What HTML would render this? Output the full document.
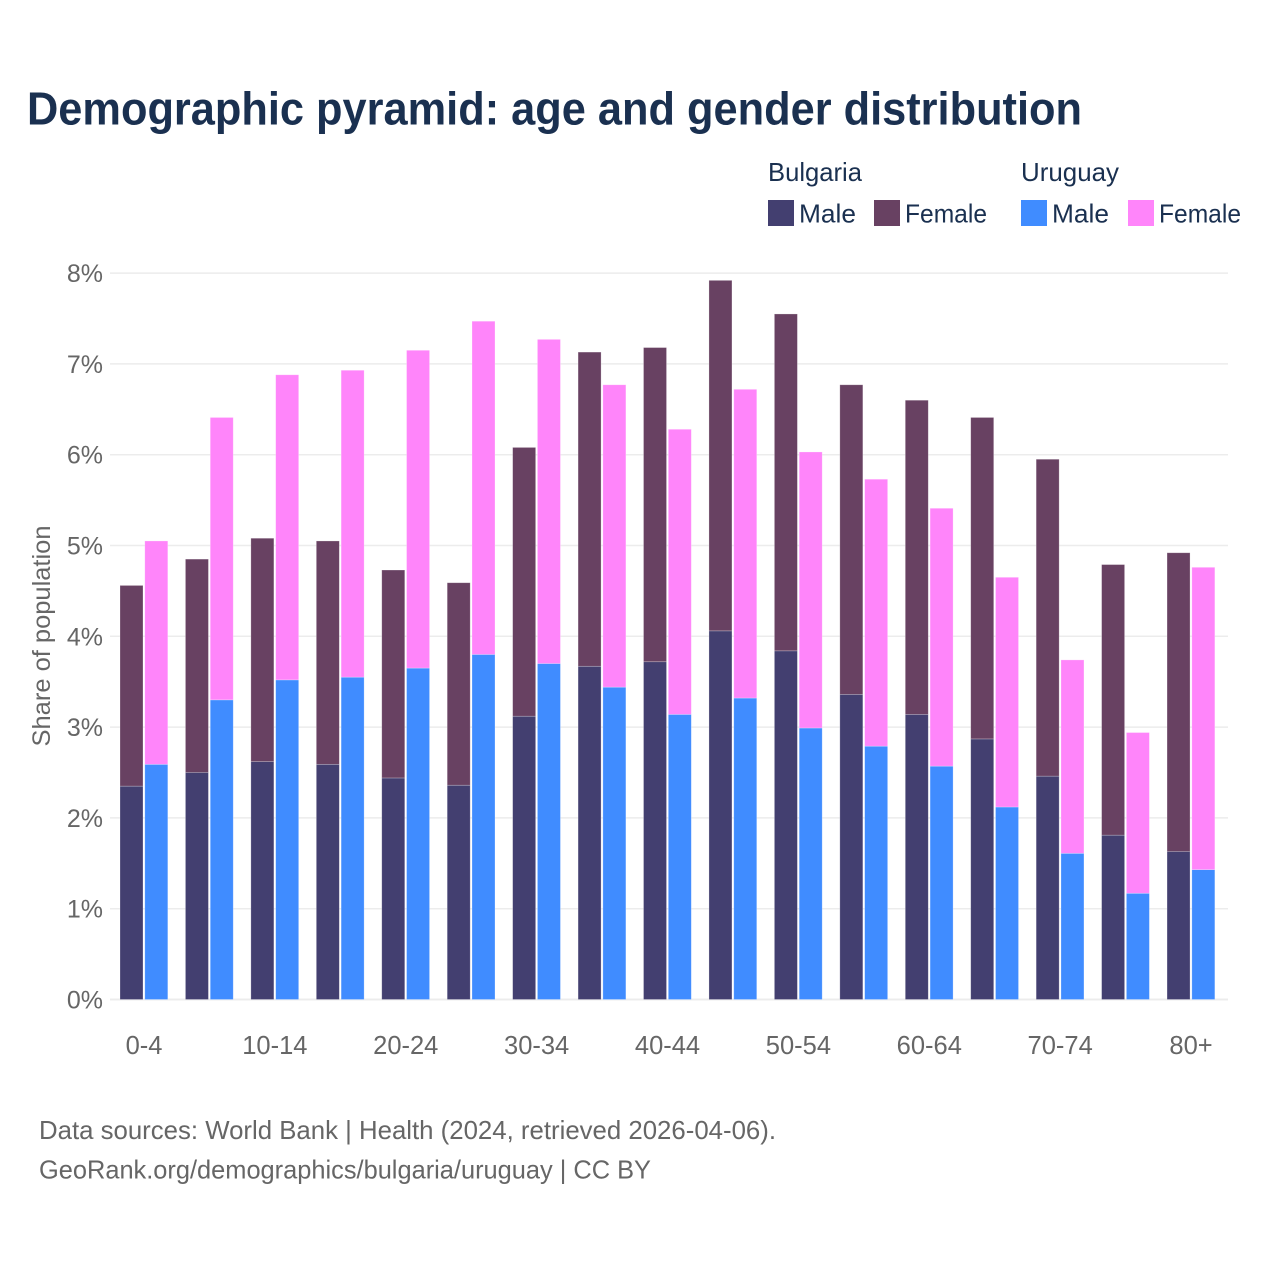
<!DOCTYPE html>
<html lang="en">
<head>
<meta charset="utf-8">
<title>Demographic pyramid</title>
<style>
html,body{margin:0;padding:0;background:#fff}
svg{display:block}
text{font-family:"Liberation Sans",sans-serif}
</style>
</head>
<body>
<svg id="chart" width="1280" height="1280" viewBox="0 0 1280 1280" xmlns="http://www.w3.org/2000/svg">
<rect width="1280" height="1280" fill="#fff"/>
<text x="27" y="124.5" font-size="46" font-weight="bold" fill="#1a3050" textLength="1055" lengthAdjust="spacingAndGlyphs">Demographic pyramid: age and gender distribution</text>
<g font-size="26" fill="#1a3050">
<text x="768" y="181" textLength="94" lengthAdjust="spacingAndGlyphs">Bulgaria</text>
<text x="1021" y="181" textLength="98" lengthAdjust="spacingAndGlyphs">Uruguay</text>
<rect x="768" y="200" width="26" height="26" fill="#433f70"/>
<text x="799" y="222.5" textLength="57" lengthAdjust="spacingAndGlyphs">Male</text>
<rect x="874" y="200" width="26" height="26" fill="#684162"/>
<text x="905" y="222.5" textLength="82" lengthAdjust="spacingAndGlyphs">Female</text>
<rect x="1021" y="200" width="26" height="26" fill="#408cff"/>
<text x="1052" y="222.5" textLength="57" lengthAdjust="spacingAndGlyphs">Male</text>
<rect x="1128" y="200" width="26" height="26" fill="#ff85fa"/>
<text x="1159" y="222.5" textLength="82" lengthAdjust="spacingAndGlyphs">Female</text>
</g>
<g id="grid"></g>
<g id="bars"></g>
<g id="yticks"></g>
<g id="xticks"></g>
<text transform="translate(50,636) rotate(-90)" text-anchor="middle" font-size="25" fill="#666" textLength="221" lengthAdjust="spacingAndGlyphs">Share of population</text>
<text x="39" y="1139" font-size="26" fill="#666" textLength="737" lengthAdjust="spacingAndGlyphs">Data sources: World Bank | Health (2024, retrieved 2026-04-06).</text>
<text x="39" y="1178.5" font-size="26" fill="#666" textLength="612" lengthAdjust="spacingAndGlyphs">GeoRank.org/demographics/bulgaria/uruguay | CC BY</text>
</svg>
<script>
const categories = ["0-4","5-9","10-14","15-19","20-24","25-29","30-34","35-39","40-44","45-49","50-54","55-59","60-64","65-69","70-74","75-79","80+"];
const bulgariaMale = [2.35,2.50,2.62,2.59,2.44,2.36,3.12,3.67,3.72,4.06,3.84,3.36,3.14,2.87,2.46,1.81,1.63];
const bulgariaFemale = [2.21,2.35,2.46,2.46,2.29,2.23,2.96,3.46,3.46,3.86,3.71,3.41,3.46,3.54,3.49,2.98,3.29];
const uruguayMale = [2.59,3.30,3.52,3.55,3.65,3.80,3.70,3.44,3.14,3.32,2.99,2.79,2.57,2.12,1.61,1.17,1.43];
const uruguayFemale = [2.46,3.11,3.36,3.38,3.50,3.67,3.57,3.33,3.14,3.40,3.04,2.94,2.84,2.53,2.13,1.77,3.33];
const yTicks = [0,1,2,3,4,5,6,7,8];
const xTickLabels = ["0-4","10-14","20-24","30-34","40-44","50-54","60-64","70-74","80+"];

const NS = "http://www.w3.org/2000/svg";
const yScale = function (v) { return 999.5 - v * 90.8; };
const groupX = function (i) { return 120 + i * 65.44; };
const barWidth = 23;
const barOffset = 24.8;

function mk(tag, parent, attrs) {
  const el = document.createElementNS(NS, tag);
  for (const k in attrs) el.setAttribute(k, attrs[k]);
  parent.appendChild(el);
  return el;
}

const grid = document.getElementById("grid");
const yG = document.getElementById("yticks");
yTicks.forEach(function (t) {
  const line = mk("line", grid, {x1:110, x2:1228, y1:yScale(t), y2:yScale(t), stroke: "#ececec", "stroke-width": t === 0 ? 2 : 1.5});
  
  
  const label = mk("text", yG, {x:103, y:yScale(t)+9, "text-anchor":"end", "font-size":25, fill:"#666"});
  
  
  label.textContent = t + "%";
});

const barsG = document.getElementById("bars");
function drawSegment(x, base, val, color, name) {
  const top = yScale(base + val), bottom = yScale(base);
  const r = mk("rect", barsG, {x:x, y:top, width:barWidth, height:bottom-top, fill:color, stroke:"#fff", "stroke-opacity":0.35, "stroke-width":0.7});
  
  
}
categories.forEach(function (c, i) {
  const x = groupX(i);
  drawSegment(x, 0, bulgariaMale[i], "#433f70", "bar-bulgaria-male");
  drawSegment(x, bulgariaMale[i], bulgariaFemale[i], "#684162", "bar-bulgaria-female");
  drawSegment(x + barOffset, 0, uruguayMale[i], "#408cff", "bar-uruguay-male");
  drawSegment(x + barOffset, uruguayMale[i], uruguayFemale[i], "#ff85fa", "bar-uruguay-female");
});

const xG = document.getElementById("xticks");
xTickLabels.forEach(function (lab) {
  const i = categories.indexOf(lab);
  const t = mk("text", xG, {x:groupX(i)+24, y:1054, "text-anchor":"middle", "font-size":25.5, fill:"#666"});
  
  
  t.textContent = lab;
});
</script>
</body>
</html>
